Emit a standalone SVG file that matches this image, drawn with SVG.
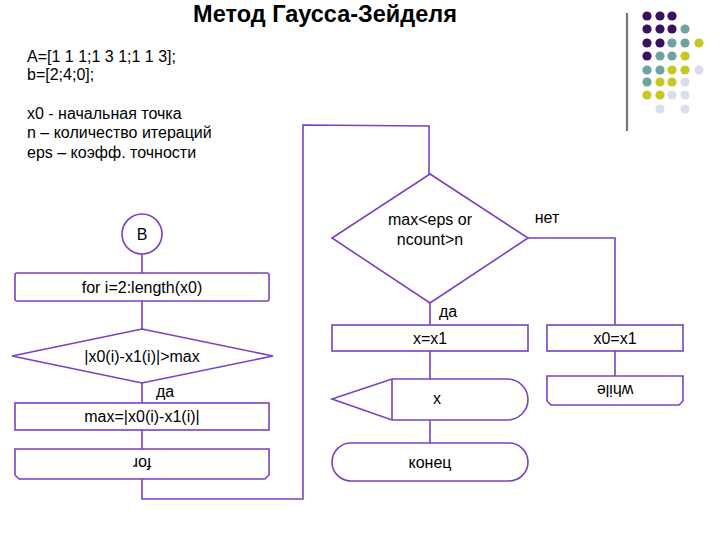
<svg xmlns="http://www.w3.org/2000/svg" width="720" height="540" viewBox="0 0 720 540">
<style>
.s{fill:#fff;stroke:#7b3fc4;stroke-width:1.6}
.c{fill:none;stroke:#7b3fc4;stroke-width:1.6}
.t{font-family:"Liberation Sans",Arial,sans-serif;font-size:16px;fill:#000}
.m{text-anchor:middle}
.pu{fill:#3c1060}.te{fill:#6fa3a0}.ye{fill:#c8c820}.la{fill:#dcdcec}
</style>
<rect width="720" height="540" fill="#fff"/>
<text x="325" y="22" class="t m" style="font-size:23.5px;font-weight:bold">Метод Гаусса-Зейделя</text>
<g id="notes" class="t">
<text x="27" y="62">A=[1 1 1;1 3 1;1 1 3];</text>
<text x="27" y="80">b=[2;4;0];</text>
<text x="27" y="119">x0 -  начальная точка</text>
<text x="27" y="138">n – количество итераций</text>
<text x="27" y="158">eps – коэфф. точности</text>
</g>
<g id="decor">
<line x1="627" y1="13" x2="627" y2="131" stroke="#777" stroke-width="2.2"/>
<circle class="pu" cx="647" cy="16" r="4.6"/><circle class="pu" cx="660" cy="16" r="4.6"/><circle class="pu" cx="672" cy="16" r="4.6"/>
<circle class="pu" cx="647" cy="29" r="4.6"/><circle class="pu" cx="660" cy="29" r="4.6"/><circle class="pu" cx="672" cy="29" r="4.6"/><circle class="te" cx="685" cy="29" r="4.6"/>
<circle class="pu" cx="647" cy="43" r="4.6"/><circle class="pu" cx="660" cy="43" r="4.6"/><circle class="te" cx="672" cy="43" r="4.6"/><circle class="te" cx="685" cy="43" r="4.6"/><circle class="ye" cx="699" cy="43" r="4.6"/>
<circle class="pu" cx="647" cy="56" r="4.6"/><circle class="te" cx="660" cy="56" r="4.6"/><circle class="te" cx="672" cy="56" r="4.6"/><circle class="ye" cx="685" cy="56" r="4.6"/>
<circle class="te" cx="647" cy="70" r="4.6"/><circle class="te" cx="660" cy="70" r="4.6"/><circle class="ye" cx="672" cy="70" r="4.6"/><circle class="ye" cx="685" cy="70" r="4.6"/><circle class="la" cx="699" cy="70" r="4.6"/>
<circle class="te" cx="647" cy="82" r="4.6"/><circle class="ye" cx="660" cy="82" r="4.6"/><circle class="ye" cx="672" cy="82" r="4.6"/><circle class="la" cx="685" cy="82" r="4.6"/>
<circle class="ye" cx="647" cy="95" r="4.6"/><circle class="ye" cx="660" cy="95" r="4.6"/><circle class="la" cx="672" cy="95" r="4.6"/><circle class="la" cx="685" cy="95" r="4.6"/>
<circle class="la" cx="660" cy="109" r="4.6"/><circle class="la" cx="685" cy="109" r="4.6"/>
</g>
<g id="connectors" class="c">
<line x1="142" y1="253" x2="142" y2="273"/>
<line x1="142" y1="301" x2="142" y2="329"/>
<line x1="142" y1="383" x2="142" y2="403"/>
<line x1="142" y1="430" x2="142" y2="449"/>
<polyline points="142,479 142,499 303,499 303,125 429,126 429,174"/>
<line x1="430" y1="303" x2="430" y2="325"/>
<polyline points="528,238 615,238 615,325"/>
<line x1="430" y1="351" x2="430" y2="379"/>
<line x1="430" y1="420" x2="430" y2="443"/>
<line x1="615" y1="351" x2="615" y2="376"/>
</g>
<g id="start">
<circle class="s" cx="142" cy="234" r="20"/>
<text x="142" y="240" class="t m">B</text>
</g>
<g id="for">
<rect class="s" x="15" y="273" width="254" height="28" rx="2"/>
<text x="142" y="293" class="t m">for i=2:length(x0)</text>
</g>
<g id="cond1">
<polygon class="s" points="142,329 273,356 142,383 12,356"/>
<text x="142" y="362" class="t m">|x0(i)-x1(i)|&gt;max</text>
<text x="165" y="397" class="t m">да</text>
</g>
<g id="assign">
<rect class="s" x="15" y="403" width="254" height="27"/>
<text x="142" y="422" class="t m">max=|x0(i)-x1(i)|</text>
</g>
<g id="endfor">
<path class="s" d="M15,449 H269 V475 L265,479 H19 L15,475 Z"/>
<text x="142" y="470" class="t m" transform="rotate(180 142 464)">for</text>
</g>
<g id="cond2">
<polygon class="s" points="430,174 528,238 430,303 332,238"/>
<text x="430" y="225" class="t m">max&lt;eps or</text>
<text x="430" y="245" class="t m">ncount&gt;n</text>
<text x="547" y="223" class="t m">нет</text>
<text x="448" y="317" class="t m">да</text>
</g>
<g id="xx1">
<rect class="s" x="332" y="325" width="196" height="26"/>
<text x="430" y="344" class="t m">x=x1</text>
</g>
<g id="x0x1">
<rect class="s" x="547" y="325" width="136" height="26"/>
<text x="615" y="344" class="t m">x0=x1</text>
</g>
<g id="display">
<path class="s" d="M332,399 L392,379 H507 A21,20.5 0 0 1 507,420 H392 Z"/>
<line class="c" x1="392" y1="379" x2="392" y2="420"/>
<text x="437" y="404" class="t m">x</text>
</g>
<g id="end">
<rect class="s" x="332" y="443" width="196" height="38" rx="19" ry="19"/>
<text x="430" y="468" class="t m">конец</text>
</g>
<g id="while">
<path class="s" d="M547,376 H683 V401 L679,405 H551 L547,401 Z"/>
<text x="615" y="397" class="t m" transform="rotate(180 615 391)">while</text>
</g>
</svg>
